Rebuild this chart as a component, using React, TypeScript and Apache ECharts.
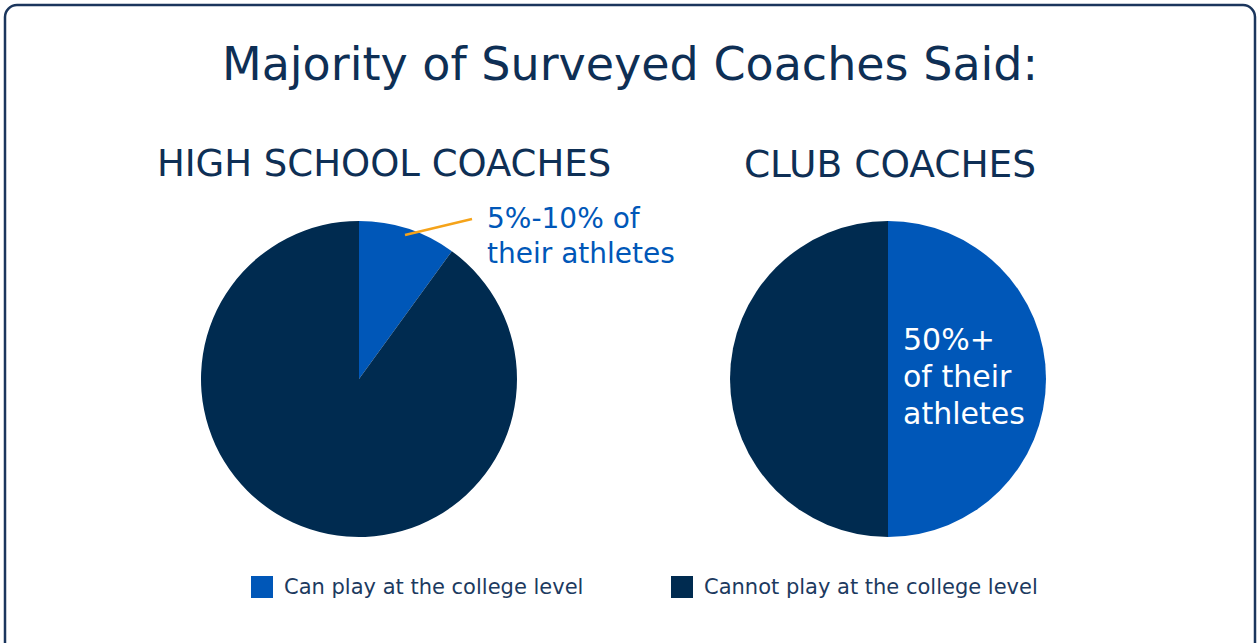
import React, { useEffect, useRef } from "react";
import * as echarts from "echarts";

const title = "Majority of Surveyed Coaches Said:";
const groups = ["HIGH SCHOOL COACHES", "CLUB COACHES"];
const categories = ["Can play at the college level", "Cannot play at the college level"];
const highSchoolValues = [10, 90];
const clubValues = [50, 50];
const highSchoolNote = ["5%-10% of", "their athletes"];
const clubNote = ["50%+", "of their", "athletes"];

const BLUE = "#0057B8";
const NAVY = "#002B50";
const TEXT = "#0E2F55";
const FONT = "DejaVu Sans, Liberation Sans, sans-serif";

export default function App() {
  const ref = useRef<HTMLDivElement>(null);
  useEffect(() => {
    if (!ref.current) return;
    const chart = echarts.init(ref.current, undefined, { renderer: "svg" });
    const mkData = (vals: number[]) =>
      categories.map((c, i) => ({ name: c, value: vals[i], itemStyle: { color: i === 0 ? BLUE : NAVY } }));
    chart.setOption({
      animation: false,
      backgroundColor: "#ffffff",
      textStyle: { fontFamily: FONT },
      title: [
        { text: title, left: 625, textAlign: "center", top: 36, textStyle: { fontFamily: FONT, fontSize: 46, fontWeight: "normal", color: TEXT } },
        { text: groups[0], left: 379, textAlign: "center", top: 140, textStyle: { fontFamily: FONT, fontSize: 37, fontWeight: "normal", color: TEXT } },
        { text: groups[1], left: 885, textAlign: "center", top: 140, textStyle: { fontFamily: FONT, fontSize: 37.5, fontWeight: "normal", color: TEXT } },
      ],
      legend: [
        {
          data: [categories[0]], left: 246, top: 571, itemWidth: 22, itemHeight: 22, icon: "rect",
          selectedMode: false, textStyle: { fontFamily: FONT, fontSize: 21, color: "#1C3A60", padding: [0, 0, 0, 6] },
        },
        {
          data: [categories[1]], left: 666, top: 571, itemWidth: 22, itemHeight: 22, icon: "rect",
          selectedMode: false, textStyle: { fontFamily: FONT, fontSize: 21, color: "#1C3A60", padding: [0, 0, 0, 6] },
        },
      ],
      series: [
        {
          type: "pie", center: [359, 379], radius: [0, 158], startAngle: 90, clockwise: true,
          label: { show: false }, labelLine: { show: false }, emphasis: { disabled: true }, silent: true,
          data: mkData(highSchoolValues),
        },
        {
          type: "pie", center: [888, 379], radius: [0, 158], startAngle: 90, clockwise: true,
          label: { show: false }, labelLine: { show: false }, emphasis: { disabled: true }, silent: true,
          data: mkData(clubValues),
        },
      ],
      graphic: [
        {
          type: "rect", shape: { x: 5, y: 5, width: 1250, height: 680, r: 12 },
          style: { fill: "none", stroke: "#1B365D", lineWidth: 2.5 }, z: -1,
        },
        {
          type: "line", shape: { x1: 405, y1: 235, x2: 472, y2: 219 },
          style: { stroke: "#F5A31A", lineWidth: 2.5 }, z: 10,
        },
        {
          type: "text", left: 487, top: 201,
          style: { text: highSchoolNote.join("\n"), fontFamily: FONT, fontSize: 28, lineHeight: 35, fill: BLUE },
        },
        {
          type: "text", left: 903, top: 321,
          style: { text: clubNote.join("\n"), fontFamily: FONT, fontSize: 30, lineHeight: 37, fill: "#ffffff" }, z: 10,
        },
      ],
    });
    return () => chart.dispose();
  }, []);
  return <div ref={ref} style={{ position: "fixed", left: 0, top: 0, width: 1259, height: 643 }} />;
}
